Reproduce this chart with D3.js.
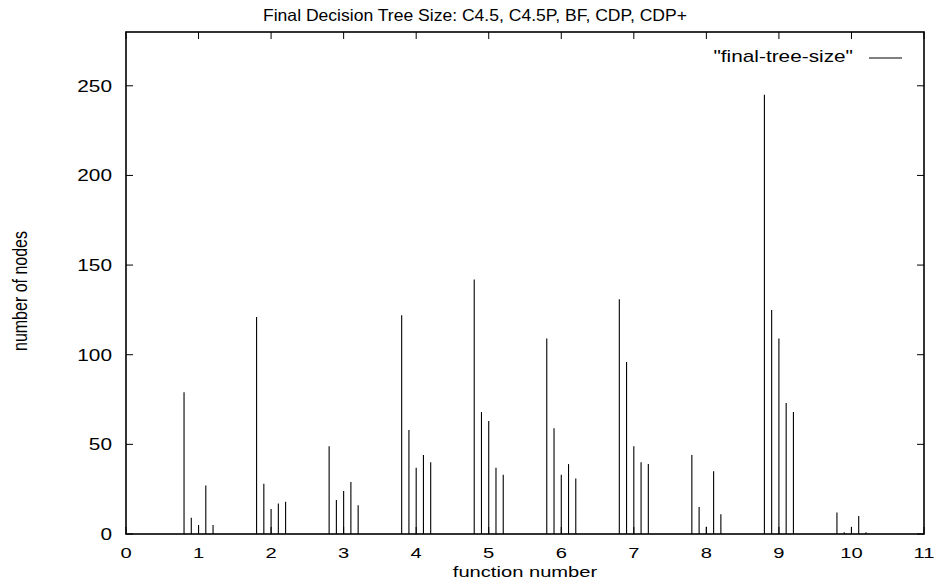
<!DOCTYPE html>
<html>
<head>
<meta charset="utf-8">
<script src="https://cdn.jsdelivr.net/npm/d3@7"></script>
<style>
  body { margin: 0; background: #fff; }
  text { font-family: "Liberation Sans", Arial, sans-serif; fill: #000; }
</style>
</head>
<body>
<div id="chart"></div>
<script>
// data: tree size per function for each method
const functions = [1, 2, 3, 4, 5, 6, 7, 8, 9, 10];
const methods = ["C4.5", "C4.5P", "BF", "CDP", "CDP+"];
const offsets = [-0.2, -0.1, 0, 0.1, 0.2];
const c45 = [79, 121, 49, 122, 142, 109, 131, 44, 245, 12];
const c45p = [9, 28, 19, 58, 68, 59, 96, 15, 125, 1];
const bf = [5, 14, 24, 37, 63, 33, 49, 4, 109, 4];
const cdp = [27, 17, 29, 44, 37, 39, 40, 35, 73, 10];
const cdpPlus = [5, 18, 16, 40, 33, 31, 39, 11, 68, 1];
const xTicks = d3.range(0, 12);
const yTicks = [0, 50, 100, 150, 200, 250];

const svgWidth = 934;
const svgHeight = 579;
const margin = {top: 32, right: 10, bottom: 45, left: 126};
const chartWidth = svgWidth - margin.left - margin.right;
const chartHeight = svgHeight - margin.top - margin.bottom;

// horizontal text stretch of the original image
const stretchX = 1.3;

const svg = d3.select("#chart").append("svg")
    .attr("width", svgWidth)
    .attr("height", svgHeight);

const chartG = svg.append("g")
    .attr("transform", `translate(${margin.left}, ${margin.top})`);

const x = d3.scaleLinear().domain([0, 11]).range([0, chartWidth]);
const y = d3.scaleLinear().domain([0, 280]).range([chartHeight, 0]);

// flatten into impulse points
const series = [c45, c45p, bf, cdp, cdpPlus];
const points = [];
series.forEach((vals, m) => {
    vals.forEach((v, i) => {
        points.push({fn: functions[i], pos: functions[i] + offsets[m], value: v, method: methods[m]});
    });
});

// impulses
chartG.selectAll("line.impulse")
    .data(points)
    .enter()
    .append("line")
    .classed("impulse", true)
    .attr("x1", d => x(d.pos))
    .attr("x2", d => x(d.pos))
    .attr("y1", y(0))
    .attr("y2", d => y(d.value))
    .attr("stroke", "#000")
    .attr("stroke-width", 1.1);

// ticks on all four sides, pointing inward
const tickLen = 7;
const tickG = chartG.append("g").attr("stroke", "#000").attr("stroke-width", 1);
xTicks.forEach(t => {
    tickG.append("line").attr("x1", x(t)).attr("x2", x(t)).attr("y1", chartHeight).attr("y2", chartHeight - tickLen);
    tickG.append("line").attr("x1", x(t)).attr("x2", x(t)).attr("y1", 0).attr("y2", tickLen);
});
yTicks.forEach(t => {
    tickG.append("line").attr("x1", 0).attr("x2", tickLen).attr("y1", y(t)).attr("y2", y(t));
    tickG.append("line").attr("x1", chartWidth).attr("x2", chartWidth - tickLen).attr("y1", y(t)).attr("y2", y(t));
});

// frame
chartG.append("rect")
    .attr("width", chartWidth)
    .attr("height", chartHeight)
    .attr("fill", "none")
    .attr("stroke", "#000")
    .attr("stroke-width", 1.6);

// stretch text horizontally around its anchor point
const stretch = (sel, cx, cy, extra = "") => {
    sel.attr("transform", `translate(${cx}, ${cy}) scale(${stretchX}, 1) ${extra}`);
};

// tick labels
chartG.selectAll("text.xlab")
    .data(xTicks)
    .enter()
    .append("text")
    .classed("xlab", true)
    .attr("text-anchor", "middle")
    .attr("font-size", 15.5)
    .text(d => d)
    .each(function(d) { stretch(d3.select(this), x(d), chartHeight + 24); });

chartG.selectAll("text.ylab")
    .data(yTicks)
    .enter()
    .append("text")
    .classed("ylab", true)
    .attr("text-anchor", "end")
    .attr("font-size", 16)
    .text(d => d)
    .each(function(d) { stretch(d3.select(this), -14, y(d) + 6); });

// axis titles
svg.append("text")
    .attr("text-anchor", "middle")
    .attr("font-size", 15.5)
    .text("function number")
    .call(s => stretch(s, margin.left + chartWidth / 2, 577));

svg.append("text")
    .attr("text-anchor", "middle")
    .attr("font-size", 16)
    .text("number of nodes")
    .call(s => stretch(s, 27, 291, "rotate(-90)"));

// title
svg.append("text")
    .attr("x", 475)
    .attr("y", 21)
    .attr("text-anchor", "middle")
    .attr("font-size", 16.5)
    .attr("textLength", 424)
    .attr("lengthAdjust", "spacingAndGlyphs")
    .text("Final Decision Tree Size: C4.5, C4.5P, BF, CDP, CDP+");

// legend
svg.append("text")
    .attr("text-anchor", "end")
    .attr("font-size", 16)
    .text("\"final-tree-size\"")
    .call(s => stretch(s, 853, 62));

svg.append("line")
    .attr("x1", 869)
    .attr("x2", 902)
    .attr("y1", 58)
    .attr("y2", 58)
    .attr("stroke", "#000")
    .attr("stroke-width", 1);
</script>
</body>
</html>
